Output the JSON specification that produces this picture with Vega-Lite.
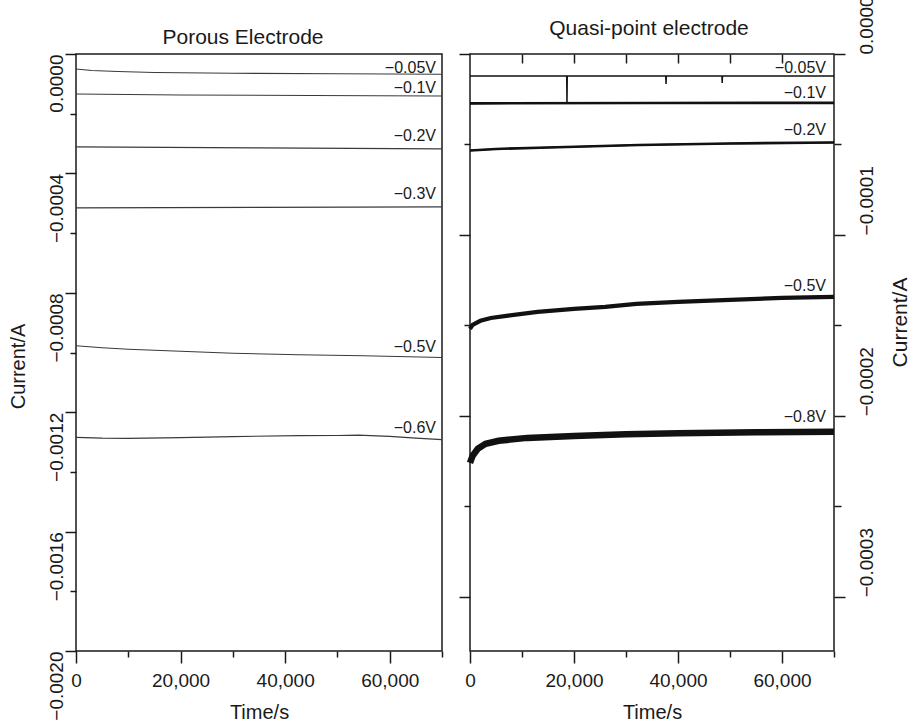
{
  "$schema": "https://vega.github.io/schema/vega-lite/v6.json",
  "background": "white",
  "padding": {"left": 7, "top": -5, "right": 0, "bottom": 0},
  "config": {
    "font": "Liberation Sans",
    "view": {"stroke": "#1a1a1a", "strokeWidth": 1.5},
    "axis": {"grid": false, "domain": false, "tickColor": "#1a1a1a", "tickWidth": 1.5, "labelColor": "#1a1a1a", "titleColor": "#1a1a1a", "labelFontSize": 19, "titleFontSize": 20, "titleFontWeight": "normal", "labelFlush": false, "labelOverlap": false, "labelBound": false},
    "title": {"fontSize": 21, "fontWeight": "normal", "color": "#1a1a1a", "frame": "group", "baseline": "alphabetic"}
  },
  "datasets": {
    "porous": [
      {"series": "-0.05V", "t": 0, "i": -5.02e-5},
      {"series": "-0.05V", "t": 3000, "i": -5.52e-5},
      {"series": "-0.05V", "t": 8000, "i": -5.86e-5},
      {"series": "-0.05V", "t": 15000, "i": -6.19e-5},
      {"series": "-0.05V", "t": 30000, "i": -6.46e-5},
      {"series": "-0.05V", "t": 50000, "i": -6.63e-5},
      {"series": "-0.05V", "t": 70000, "i": -6.76e-5},
      {"series": "-0.1V", "t": 0, "i": -1.339e-4},
      {"series": "-0.1V", "t": 20000, "i": -1.372e-4},
      {"series": "-0.1V", "t": 45000, "i": -1.389e-4},
      {"series": "-0.1V", "t": 70000, "i": -1.406e-4},
      {"series": "-0.2V", "t": 0, "i": -3.113e-4},
      {"series": "-0.2V", "t": 35000, "i": -3.146e-4},
      {"series": "-0.2V", "t": 70000, "i": -3.18e-4},
      {"series": "-0.3V", "t": 0, "i": -5.154e-4},
      {"series": "-0.3V", "t": 35000, "i": -5.138e-4},
      {"series": "-0.3V", "t": 70000, "i": -5.121e-4},
      {"series": "-0.5V", "t": 0, "i": -9.773e-4},
      {"series": "-0.5V", "t": 5000, "i": -9.84e-4},
      {"series": "-0.5V", "t": 10000, "i": -9.89e-4},
      {"series": "-0.5V", "t": 20000, "i": -9.957e-4},
      {"series": "-0.5V", "t": 30000, "i": -1.0024e-3},
      {"series": "-0.5V", "t": 42600, "i": -1.0074e-3},
      {"series": "-0.5V", "t": 55000, "i": -1.0108e-3},
      {"series": "-0.5V", "t": 70000, "i": -1.0165e-3},
      {"series": "-0.6V", "t": 0, "i": -1.2842e-3},
      {"series": "-0.6V", "t": 5000, "i": -1.2869e-3},
      {"series": "-0.6V", "t": 10000, "i": -1.2876e-3},
      {"series": "-0.6V", "t": 20000, "i": -1.2852e-3},
      {"series": "-0.6V", "t": 30000, "i": -1.2819e-3},
      {"series": "-0.6V", "t": 42600, "i": -1.2785e-3},
      {"series": "-0.6V", "t": 50000, "i": -1.2779e-3},
      {"series": "-0.6V", "t": 54000, "i": -1.2769e-3},
      {"series": "-0.6V", "t": 60000, "i": -1.2809e-3},
      {"series": "-0.6V", "t": 65000, "i": -1.2869e-3},
      {"series": "-0.6V", "t": 70000, "i": -1.2919e-3}
    ],
    "porousLabels": [
      {"label": "−0.05V", "t": 68850, "i": -6.36e-5},
      {"label": "−0.1V", "t": 68850, "i": -1.305e-4},
      {"label": "−0.2V", "t": 68850, "i": -2.912e-4},
      {"label": "−0.3V", "t": 68850, "i": -4.853e-4},
      {"label": "−0.5V", "t": 68850, "i": -9.974e-4},
      {"label": "−0.6V", "t": 68850, "i": -1.2685e-3}
    ],
    "quasi": [
      {"series": "-0.05V", "t": 0, "i": -1.216e-5},
      {"series": "-0.05V", "t": 18600, "i": -1.216e-5},
      {"series": "-0.05V", "t": 18650, "i": -2.707e-5},
      {"series": "-0.05V", "t": 18700, "i": -1.216e-5},
      {"series": "-0.05V", "t": 37650, "i": -1.216e-5},
      {"series": "-0.05V", "t": 37700, "i": -1.658e-5},
      {"series": "-0.05V", "t": 37750, "i": -1.216e-5},
      {"series": "-0.05V", "t": 48450, "i": -1.216e-5},
      {"series": "-0.05V", "t": 48500, "i": -1.602e-5},
      {"series": "-0.05V", "t": 48550, "i": -1.216e-5},
      {"series": "-0.05V", "t": 70000, "i": -1.216e-5},
      {"series": "-0.1V", "t": 0, "i": -2.73e-5},
      {"series": "-0.1V", "t": 35000, "i": -2.71e-5},
      {"series": "-0.1V", "t": 70000, "i": -2.7e-5},
      {"series": "-0.2V", "t": 0, "i": -5.332e-5},
      {"series": "-0.2V", "t": 5000, "i": -5.249e-5},
      {"series": "-0.2V", "t": 15000, "i": -5.166e-5},
      {"series": "-0.2V", "t": 32500, "i": -5.028e-5},
      {"series": "-0.2V", "t": 50000, "i": -4.945e-5},
      {"series": "-0.2V", "t": 70000, "i": -4.89e-5},
      {"series": "-0.5V", "t": 0, "i": -1.519e-4},
      {"series": "-0.5V", "t": 500, "i": -1.497e-4},
      {"series": "-0.5V", "t": 2000, "i": -1.475e-4},
      {"series": "-0.5V", "t": 4000, "i": -1.459e-4},
      {"series": "-0.5V", "t": 7000, "i": -1.448e-4},
      {"series": "-0.5V", "t": 13000, "i": -1.425e-4},
      {"series": "-0.5V", "t": 20000, "i": -1.409e-4},
      {"series": "-0.5V", "t": 26000, "i": -1.398e-4},
      {"series": "-0.5V", "t": 32000, "i": -1.381e-4},
      {"series": "-0.5V", "t": 40000, "i": -1.37e-4},
      {"series": "-0.5V", "t": 50000, "i": -1.359e-4},
      {"series": "-0.5V", "t": 60000, "i": -1.348e-4},
      {"series": "-0.5V", "t": 70000, "i": -1.343e-4},
      {"series": "-0.8V", "t": 0, "i": -2.26e-4},
      {"series": "-0.8V", "t": 500, "i": -2.221e-4},
      {"series": "-0.8V", "t": 1500, "i": -2.182e-4},
      {"series": "-0.8V", "t": 3000, "i": -2.155e-4},
      {"series": "-0.8V", "t": 5500, "i": -2.138e-4},
      {"series": "-0.8V", "t": 11000, "i": -2.122e-4},
      {"series": "-0.8V", "t": 20000, "i": -2.111e-4},
      {"series": "-0.8V", "t": 30000, "i": -2.102e-4},
      {"series": "-0.8V", "t": 40000, "i": -2.097e-4},
      {"series": "-0.8V", "t": 55000, "i": -2.091e-4},
      {"series": "-0.8V", "t": 70000, "i": -2.088e-4}
    ],
    "quasiLabels": [
      {"label": "−0.05V", "t": 68460, "i": -1.05e-5},
      {"label": "−0.1V", "t": 68460, "i": -2.43e-5},
      {"label": "−0.2V", "t": 68460, "i": -4.475e-5},
      {"label": "−0.5V", "t": 68460, "i": -1.309e-4},
      {"label": "−0.8V", "t": 68460, "i": -2.033e-4}
    ]
  },
  "spacing": 28,
  "bounds": "flush",
  "hconcat": [
    {
      "width": 366,
      "height": 597,
      "title": {"text": "Porous Electrode", "dx": -16, "offset": 5.5},
      "resolve": {"axis": {"x": "independent", "y": "independent"}},
      "layer": [
        {
          "data": {"name": "porous"},
          "mark": {"type": "line", "color": "#3a3a3a", "strokeWidth": 1.1},
          "encoding": {
            "x": {"field": "t", "type": "quantitative", "scale": {"domain": [0, 70000], "nice": false, "zero": false},
              "axis": {"orient": "bottom", "values": [0, 20000, 40000, 60000], "format": ",d", "tickSize": 12, "labelPadding": 8.5, "title": "Time/s", "titleY": 51, "titleBaseline": "top"}},
            "y": {"field": "i", "type": "quantitative", "scale": {"domain": [-0.002, 0], "nice": false, "zero": false},
              "axis": {"orient": "left", "values": [0, -0.0004, -0.0008, -0.0012, -0.0016, -0.002], "format": ".4f", "tickSize": 11, "labelAngle": 270, "labelAlign": "right", "labelBaseline": "alphabetic", "labelPadding": 3, "title": "Current/A", "titleAngle": 270, "titleX": -51.5, "titleY": 312, "titleAlign": "center", "titleBaseline": "alphabetic"}},
            "detail": {"field": "series"}
          }
        },
        {
          "data": {"name": "porousLabels"},
          "mark": {"type": "text", "align": "right", "baseline": "alphabetic", "fontSize": 16, "color": "#1a1a1a"},
          "encoding": {
            "x": {"field": "t", "type": "quantitative", "scale": {"domain": [0, 70000], "nice": false, "zero": false},
              "axis": {"orient": "bottom", "values": [10000, 30000, 50000, 70000], "tickSize": 6, "labels": false, "title": null}},
            "y": {"field": "i", "type": "quantitative", "scale": {"domain": [-0.002, 0], "nice": false, "zero": false},
              "axis": {"orient": "left", "values": [-0.0002, -0.0006, -0.001, -0.0014, -0.0018], "tickSize": 6, "labels": false, "title": null}},
            "text": {"field": "label"}
          }
        }
      ]
    },
    {
      "width": 364,
      "height": 597,
      "title": {"text": "Quasi-point electrode", "dx": -3, "offset": -43},
      "resolve": {"axis": {"x": "independent", "y": "independent"}},
      "layer": [
        {
          "data": {"name": "quasi"},
          "mark": {"type": "line", "color": "#111111", "strokeWidth": 1.5},
          "encoding": {
            "x": {"field": "t", "type": "quantitative", "scale": {"domain": [0, 70000], "nice": false, "zero": false},
              "axis": {"orient": "bottom", "values": [0, 20000, 40000, 60000], "format": ",d", "tickSize": 12, "labelPadding": 8.5, "title": "Time/s", "titleY": 51, "titleBaseline": "top"}},
            "y": {"field": "i", "type": "quantitative", "scale": {"domain": [-0.00033, 0], "nice": false, "zero": false},
              "axis": {"orient": "right", "values": [0, -0.0001, -0.0002, -0.0003], "format": ".4f", "tickSize": 11, "labelAngle": 270, "labelAlign": "left", "labelBaseline": "alphabetic", "labelPadding": 27, "title": "Current/A", "titleAngle": 270, "titleX": 72, "titleY": 268, "titleAlign": "center", "titleBaseline": "alphabetic", "titleFontSize": 21}},
            "detail": {"field": "series"}
          }
        },
        {
          "data": {"name": "quasi"},
          "transform": [{"filter": {"field": "series", "oneOf": ["-0.1V", "-0.2V"]}}],
          "mark": {"type": "line", "color": "#111111", "strokeWidth": 2.6},
          "encoding": {
            "x": {"field": "t", "type": "quantitative", "scale": {"domain": [0, 70000], "nice": false, "zero": false},
              "axis": {"orient": "top", "values": [10000, 20000, 30000, 40000, 50000, 60000], "tickSize": -9, "labels": false, "title": null}},
            "y": {"field": "i", "type": "quantitative", "scale": {"domain": [-0.00033, 0], "nice": false, "zero": false},
              "axis": {"orient": "left", "values": [0, -0.0001, -0.0002, -0.0003], "tickSize": 11, "labels": false, "title": null}},
            "detail": {"field": "series"}
          }
        },
        {
          "data": {"name": "quasi"},
          "transform": [{"filter": {"field": "series", "equal": "-0.5V"}}],
          "mark": {"type": "line", "color": "#111111", "strokeWidth": 4.2},
          "encoding": {
            "x": {"field": "t", "type": "quantitative", "scale": {"domain": [0, 70000], "nice": false, "zero": false}, "axis": null},
            "y": {"field": "i", "type": "quantitative", "scale": {"domain": [-0.00033, 0], "nice": false, "zero": false},
              "axis": {"orient": "left", "values": [-0.00005, -0.00015, -0.00025], "tickSize": 6, "labels": false, "title": null}}
          }
        },
        {
          "data": {"name": "quasi"},
          "transform": [{"filter": {"field": "series", "equal": "-0.8V"}}],
          "mark": {"type": "line", "color": "#111111", "strokeWidth": 6.5},
          "encoding": {
            "x": {"field": "t", "type": "quantitative", "scale": {"domain": [0, 70000], "nice": false, "zero": false}, "axis": null},
            "y": {"field": "i", "type": "quantitative", "scale": {"domain": [-0.00033, 0], "nice": false, "zero": false}, "axis": null}
          }
        },
        {
          "data": {"name": "quasiLabels"},
          "mark": {"type": "text", "align": "right", "baseline": "alphabetic", "fontSize": 16, "color": "#1a1a1a"},
          "encoding": {
            "x": {"field": "t", "type": "quantitative", "scale": {"domain": [0, 70000], "nice": false, "zero": false},
              "axis": {"orient": "bottom", "values": [10000, 30000, 50000, 70000], "tickSize": 6, "labels": false, "title": null}},
            "y": {"field": "i", "type": "quantitative", "scale": {"domain": [-0.00033, 0], "nice": false, "zero": false},
              "axis": {"orient": "right", "values": [-0.00005, -0.00015, -0.00025], "tickSize": 7, "labels": false, "title": null}},
            "text": {"field": "label"}
          }
        }
      ]
    }
  ]
}
